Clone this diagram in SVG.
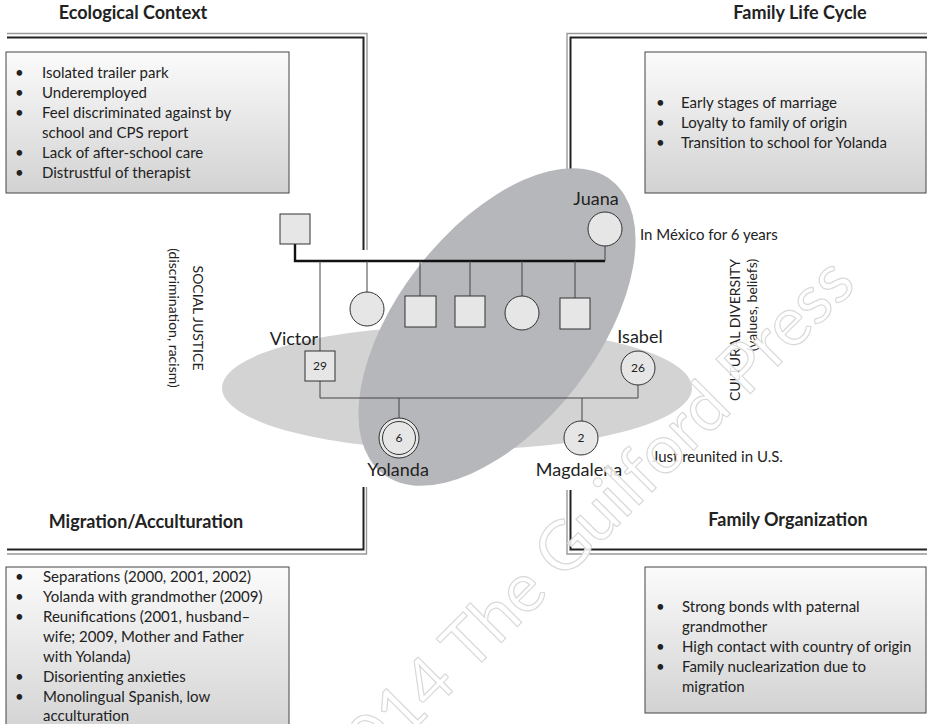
<svg xmlns="http://www.w3.org/2000/svg" width="927" height="724" viewBox="0 0 927 724">
<defs>
<linearGradient id="boxgrad" x1="0" y1="0" x2="0" y2="1">
<stop offset="0" stop-color="#fbfbfb"/>
<stop offset="1" stop-color="#d2d2d2"/>
</linearGradient>
<style>
text{font-family:Lato,"Open Sans","Liberation Sans",sans-serif;fill:#222}
.body{font-size:15px}
.head{font-size:18px;font-weight:bold;text-anchor:middle}
.lbl{font-size:18px}
.age{font-size:12px;text-anchor:middle}
.vt{font-size:14px;text-anchor:middle}
.box{fill:url(#boxgrad);stroke:#444;stroke-width:1}
.fd{fill:none;stroke:#222;stroke-width:2}
.fg{fill:none;stroke:#999;stroke-width:1.4}
.node{fill:#e6e6e6;stroke:#333;stroke-width:1}
.thin{fill:none;stroke:#444;stroke-width:1}
.thick{fill:none;stroke:#111;stroke-width:2.4}
.wm{font-size:68px;fill:#fff;fill-opacity:0.85;stroke:#d9d9d9;stroke-width:1.2}
</style>
</defs>
<rect width="927" height="724" fill="#fff"/>

<g id="ecological-context">
<text class="head" x="133" y="19">Ecological Context</text>
<polyline class="fg" points="7,33.5 367,33.5 367,250"/>
<polyline class="fd" points="7,37.5 363.5,37.5 363.5,250"/>
<rect class="box" x="6" y="52" width="283" height="141"/>
<g class="body">
<text x="15" y="78">•</text><text x="42" y="78">Isolated trailer park</text>
<text x="15" y="98">•</text><text x="42" y="98">Underemployed</text>
<text x="15" y="118">•</text><text x="42" y="118">Feel discriminated against by</text>
<text x="42" y="138">school and CPS report</text>
<text x="15" y="158">•</text><text x="42" y="158">Lack of after-school care</text>
<text x="15" y="178">•</text><text x="42" y="178">Distrustful of therapist</text>
</g>
</g>

<g id="family-life-cycle">
<text class="head" x="800" y="19">Family Life Cycle</text>
<polyline class="fg" points="567,180 567,33.5 927,33.5"/>
<polyline class="fd" points="570.5,180 570.5,37.5 927,37.5"/>
<rect class="box" x="645" y="52" width="281" height="141"/>
<g class="body">
<text x="656" y="108">•</text><text x="681" y="108">Early stages of marriage</text>
<text x="656" y="128">•</text><text x="681" y="128">Loyalty to family of origin</text>
<text x="656" y="148">•</text><text x="681" y="148">Transition to school for Yolanda</text>
</g>
</g>

<g id="migration-acculturation">
<text class="head" x="146" y="528">Migration/Acculturation</text>
<polyline class="fd" points="7,549.5 363.5,549.5 363.5,487"/>
<polyline class="fg" points="7,554 366.5,554 366.5,487"/>
<rect class="box" x="6" y="567" width="283" height="170"/>
<g class="body">
<text x="15" y="582">•</text><text x="43" y="582">Separations (2000, 2001, 2002)</text>
<text x="15" y="602">•</text><text x="43" y="602">Yolanda with grandmother (2009)</text>
<text x="15" y="622">•</text><text x="43" y="622">Reunifications (2001, husband–</text>
<text x="43" y="642">wife; 2009, Mother and Father</text>
<text x="43" y="662">with Yolanda)</text>
<text x="15" y="682">•</text><text x="43" y="682">Disorienting anxieties</text>
<text x="15" y="702">•</text><text x="43" y="702">Monolingual Spanish, low</text>
<text x="43" y="721">acculturation</text>
</g>
</g>

<g id="family-organization">
<text class="head" x="788" y="526">Family Organization</text>
<polyline class="fg" points="567,490 567,554 927,554"/>
<polyline class="fd" points="570.5,490 570.5,549.5 927,549.5"/>
<rect class="box" x="645" y="567" width="281" height="146"/>
<g class="body">
<text x="656" y="612">•</text><text x="682" y="612">Strong bonds wIth paternal</text>
<text x="682" y="632">grandmother</text>
<text x="656" y="652">•</text><text x="682" y="652">High contact with country of origin</text>
<text x="656" y="672">•</text><text x="682" y="672">Family nuclearization due to</text>
<text x="682" y="692">migration</text>
</g>
</g>

<g id="social-justice">
<text class="vt" transform="translate(193,318) rotate(90)">SOCIAL JUSTICE</text>
<text class="vt" transform="translate(169,318) rotate(90)">(discrimination, racism)</text>
</g>
<g id="cultural-diversity">
<text class="vt" transform="translate(740,330) rotate(-90)">CULTURAL DIVERSITY</text>
<text class="vt" transform="translate(757,305) rotate(-90)">(values, beliefs)</text>
</g>

<g id="system-ellipses">
<ellipse cx="457" cy="388" rx="235" ry="62" fill="#d3d3d3"/>
<ellipse cx="497" cy="327" rx="186" ry="99" fill="#b6b7ba" transform="rotate(-52 497 327)"/>
</g>

<g id="connectors">
<polyline class="thick" points="295,244 295,261 605,261"/>
<line class="thin" x1="605" y1="246" x2="605" y2="261"/>
<line class="thin" x1="320" y1="261" x2="320" y2="351"/>
<line class="thin" x1="367" y1="261" x2="367" y2="292"/>
<line class="thin" x1="420" y1="261" x2="420" y2="296"/>
<line class="thin" x1="470" y1="261" x2="470" y2="296"/>
<line class="thin" x1="522" y1="261" x2="522" y2="296"/>
<line class="thin" x1="575" y1="261" x2="575" y2="298"/>
<polyline class="thin" points="320,381 320,398 638,398 638,385"/>
<line class="thin" x1="399" y1="398" x2="399" y2="418"/>
<line class="thin" x1="582" y1="398" x2="582" y2="421"/>
</g>

<g id="grandfather"><rect class="node" x="280" y="214" width="30" height="30"/></g>
<g id="juana">
<circle class="node" cx="605" cy="229" r="17"/>
<text class="lbl" x="596" y="205" text-anchor="middle">Juana</text>
<text class="body" x="640" y="240">In México for 6 years</text>
</g>
<g id="sibling-1"><circle class="node" cx="367" cy="309" r="17"/></g>
<g id="sibling-2"><rect class="node" x="405" y="296" width="31" height="31"/></g>
<g id="sibling-3"><rect class="node" x="455" y="296" width="30" height="31"/></g>
<g id="sibling-4"><circle class="node" cx="522" cy="313" r="17"/></g>
<g id="sibling-5"><rect class="node" x="560" y="298" width="30" height="31"/></g>
<g id="victor">
<rect class="node" x="305" y="351" width="30" height="30"/>
<text class="age" x="320" y="370">29</text>
<text class="lbl" x="318" y="345" text-anchor="end">Victor</text>
</g>
<g id="isabel">
<circle class="node" cx="638" cy="368" r="17"/>
<text class="age" x="638" y="372">26</text>
<text class="lbl" x="640" y="343" text-anchor="middle">Isabel</text>
</g>
<g id="yolanda">
<circle class="node" cx="399" cy="438" r="20"/>
<circle cx="399" cy="438" r="16.5" fill="none" stroke="#333" stroke-width="1"/>
<text class="age" x="399" y="442">6</text>
<text class="lbl" x="398" y="476" text-anchor="middle">Yolanda</text>
</g>
<g id="magdalena">
<circle class="node" cx="581" cy="438" r="17"/>
<text class="age" x="581" y="442">2</text>
<text class="lbl" x="579" y="476" text-anchor="middle">Magdalena</text>
<text class="body" x="652" y="462">Just reunited in U.S.</text>
</g>

<g id="watermark">
<text class="wm" text-anchor="end" transform="translate(858,286) rotate(-45)">© 2014 The Guilford Press</text>
</g>
</svg>
